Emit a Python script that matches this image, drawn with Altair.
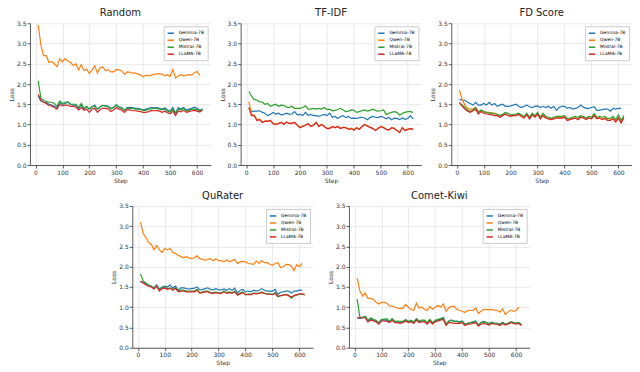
import altair as alt
import pandas as pd

models = ["Gemma-7B", "Qwen-7B", "Mistral-7B", "LLaMA-7B"]
colors = ["#1f77b4", "#ff7f0e", "#2ca02c", "#d62728"]
x_ticks = [0, 100, 200, 300, 400, 500, 600]
y_ticks = [0.0, 0.5, 1.0, 1.5, 2.0, 2.5, 3.0, 3.5]

# ---- Random ----
random_gemma = [1.70, 1.58, 1.55, 1.54, 1.50, 1.48, 1.45, 1.42, 1.55, 1.50, 1.52, 1.55, 1.50, 1.48, 1.48, 1.40,
                1.48, 1.38, 1.44, 1.38, 1.43, 1.48, 1.38, 1.44, 1.47, 1.47, 1.45, 1.40, 1.42, 1.49, 1.44, 1.42,
                1.35, 1.42, 1.42, 1.42, 1.40, 1.40, 1.38, 1.36, 1.38, 1.40, 1.42, 1.41, 1.42, 1.40, 1.38, 1.41,
                1.36, 1.33, 1.42, 1.28, 1.42, 1.38, 1.42, 1.36, 1.38, 1.40, 1.43, 1.40, 1.35, 1.38]
random_qwen = [3.46, 2.96, 2.70, 2.70, 2.53, 2.55, 2.50, 2.43, 2.62, 2.55, 2.63, 2.57, 2.53, 2.46, 2.50, 2.35,
               2.48, 2.33, 2.37, 2.26, 2.35, 2.45, 2.27, 2.40, 2.42, 2.33, 2.35, 2.30, 2.30, 2.36, 2.35, 2.33,
               2.24, 2.30, 2.29, 2.27, 2.27, 2.25, 2.22, 2.18, 2.22, 2.20, 2.22, 2.24, 2.25, 2.25, 2.24, 2.20,
               2.23, 2.19, 2.36, 2.15, 2.20, 2.23, 2.20, 2.22, 2.23, 2.22, 2.28, 2.31, 2.21]
random_mistral = [2.08, 1.65, 1.60, 1.57, 1.55, 1.55, 1.52, 1.45, 1.58, 1.52, 1.55, 1.56, 1.50, 1.50, 1.50, 1.42,
                  1.52, 1.40, 1.45, 1.38, 1.45, 1.45, 1.38, 1.43, 1.47, 1.45, 1.43, 1.38, 1.42, 1.48, 1.42, 1.40,
                  1.35, 1.40, 1.40, 1.40, 1.38, 1.38, 1.37, 1.35, 1.35, 1.38, 1.39, 1.40, 1.40, 1.38, 1.36, 1.38,
                  1.33, 1.30, 1.38, 1.27, 1.38, 1.35, 1.40, 1.33, 1.35, 1.38, 1.38, 1.37, 1.33, 1.38]
random_llama = [1.75, 1.60, 1.55, 1.52, 1.47, 1.46, 1.42, 1.38, 1.50, 1.46, 1.48, 1.48, 1.45, 1.45, 1.43, 1.36,
                1.42, 1.35, 1.38, 1.30, 1.38, 1.40, 1.30, 1.37, 1.40, 1.40, 1.38, 1.32, 1.36, 1.42, 1.38, 1.36,
                1.30, 1.36, 1.36, 1.34, 1.34, 1.33, 1.32, 1.30, 1.30, 1.32, 1.35, 1.34, 1.35, 1.33, 1.30, 1.33,
                1.29, 1.27, 1.33, 1.22, 1.33, 1.31, 1.35, 1.30, 1.32, 1.34, 1.35, 1.33, 1.31, 1.36]

# ---- TF-IDF ----
tfidf_gemma = [1.40, 1.32, 1.33, 1.33, 1.34, 1.30, 1.28, 1.22, 1.25, 1.30, 1.26, 1.28, 1.24, 1.25, 1.28, 1.25,
               1.26, 1.32, 1.24, 1.25, 1.22, 1.30, 1.23, 1.25, 1.22, 1.22, 1.20, 1.23, 1.25, 1.22, 1.28, 1.18,
               1.20, 1.15, 1.20, 1.22, 1.17, 1.20, 1.15, 1.16, 1.15, 1.17, 1.18, 1.16, 1.12, 1.17, 1.20, 1.18,
               1.17, 1.20, 1.18, 1.14, 1.18, 1.12, 1.16, 1.15, 1.12, 1.16, 1.13, 1.15, 1.22, 1.14]
tfidf_qwen = [1.57, 1.25, 1.23, 1.12, 1.13, 1.06, 1.09, 1.09, 1.10, 1.03, 1.01, 1.03, 1.06, 1.01, 1.06, 1.03,
              1.04, 1.05, 0.99, 0.93, 0.96, 0.99, 1.02, 0.96, 0.99, 1.05, 0.96, 1.00, 0.96, 0.91, 0.91, 0.95,
              0.93, 0.95, 0.91, 0.93, 0.93, 0.89, 0.91, 0.87, 0.92, 0.89, 0.95, 1.00, 0.97, 0.94, 0.91, 0.86,
              0.91, 0.95, 0.93, 0.89, 0.87, 0.92, 0.91, 0.86, 0.81, 0.92, 0.86, 0.89, 0.90, 0.89]
tfidf_mistral = [1.82, 1.70, 1.62, 1.60, 1.56, 1.55, 1.50, 1.52, 1.45, 1.48, 1.50, 1.45, 1.48, 1.47, 1.43, 1.42,
                 1.45, 1.40, 1.40, 1.40, 1.42, 1.46, 1.38, 1.38, 1.40, 1.38, 1.40, 1.38, 1.42, 1.37, 1.38, 1.34,
                 1.35, 1.37, 1.40, 1.36, 1.32, 1.33, 1.36, 1.35, 1.30, 1.32, 1.34, 1.36, 1.33, 1.35, 1.38, 1.35,
                 1.33, 1.34, 1.36, 1.25, 1.28, 1.30, 1.32, 1.30, 1.23, 1.28, 1.30, 1.32, 1.32, 1.30]
tfidf_llama = [1.42, 1.22, 1.22, 1.10, 1.12, 1.05, 1.08, 1.08, 1.10, 1.02, 1.00, 1.02, 1.05, 1.00, 1.06, 1.02,
               1.03, 1.05, 0.98, 0.92, 0.95, 0.98, 1.02, 0.95, 0.98, 1.05, 0.95, 1.00, 0.95, 0.90, 0.90, 0.95,
               0.92, 0.95, 0.90, 0.93, 0.92, 0.88, 0.90, 0.86, 0.92, 0.88, 0.95, 1.00, 0.96, 0.93, 0.90, 0.85,
               0.90, 0.95, 0.92, 0.88, 0.86, 0.92, 0.90, 0.85, 0.80, 0.92, 0.85, 0.88, 0.90, 0.88]

# ---- FD Score ----
fd_gemma = [1.62, 1.60, 1.60, 1.55, 1.52, 1.48, 1.55, 1.48, 1.48, 1.52, 1.48, 1.55, 1.48, 1.52, 1.45, 1.48,
            1.50, 1.45, 1.45, 1.46, 1.48, 1.50, 1.45, 1.42, 1.45, 1.48, 1.44, 1.42, 1.45, 1.46, 1.42, 1.45,
            1.42, 1.45, 1.40, 1.45, 1.35, 1.42, 1.45, 1.45, 1.40, 1.42, 1.38, 1.40, 1.42, 1.48, 1.43, 1.40,
            1.40, 1.42, 1.44, 1.35, 1.35, 1.37, 1.38, 1.38, 1.33, 1.40, 1.38, 1.40, 1.40]
fd_qwen = [1.85, 1.62, 1.48, 1.40, 1.38, 1.38, 1.42, 1.32, 1.35, 1.32, 1.30, 1.30, 1.28, 1.28, 1.23, 1.19,
           1.23, 1.27, 1.23, 1.21, 1.23, 1.23, 1.26, 1.21, 1.17, 1.25, 1.15, 1.25, 1.19, 1.27, 1.15, 1.23,
           1.17, 1.15, 1.13, 1.15, 1.17, 1.17, 1.17, 1.19, 1.11, 1.13, 1.15, 1.17, 1.13, 1.19, 1.17, 1.13,
           1.17, 1.15, 1.23, 1.15, 1.17, 1.13, 1.16, 1.11, 1.11, 1.15, 1.07, 1.17, 1.05, 1.17]
fd_mistral = [1.52, 1.48, 1.42, 1.36, 1.32, 1.36, 1.42, 1.30, 1.36, 1.32, 1.30, 1.28, 1.28, 1.26, 1.26, 1.22,
              1.25, 1.30, 1.28, 1.24, 1.25, 1.26, 1.28, 1.24, 1.20, 1.28, 1.18, 1.28, 1.22, 1.30, 1.18, 1.28,
              1.20, 1.18, 1.16, 1.18, 1.20, 1.20, 1.20, 1.22, 1.15, 1.16, 1.18, 1.20, 1.18, 1.22, 1.20, 1.16,
              1.20, 1.18, 1.27, 1.18, 1.20, 1.18, 1.20, 1.15, 1.15, 1.20, 1.12, 1.24, 1.10, 1.22]
fd_llama = [1.55, 1.45, 1.38, 1.33, 1.30, 1.34, 1.38, 1.26, 1.32, 1.28, 1.26, 1.25, 1.24, 1.22, 1.22, 1.18,
            1.22, 1.26, 1.22, 1.20, 1.22, 1.22, 1.25, 1.20, 1.16, 1.24, 1.14, 1.24, 1.18, 1.26, 1.14, 1.22,
            1.16, 1.14, 1.12, 1.14, 1.16, 1.16, 1.16, 1.18, 1.10, 1.12, 1.14, 1.16, 1.12, 1.18, 1.16, 1.12,
            1.16, 1.14, 1.22, 1.14, 1.16, 1.12, 1.15, 1.10, 1.10, 1.14, 1.06, 1.16, 1.04, 1.16]

# ---- QuRater ----
qu_gemma = [1.62, 1.62, 1.58, 1.55, 1.52, 1.48, 1.55, 1.45, 1.50, 1.52, 1.50, 1.55, 1.48, 1.52, 1.42, 1.48,
            1.48, 1.46, 1.45, 1.46, 1.47, 1.50, 1.43, 1.44, 1.46, 1.48, 1.44, 1.43, 1.46, 1.43, 1.43, 1.45,
            1.42, 1.46, 1.42, 1.47, 1.35, 1.42, 1.44, 1.38, 1.40, 1.38, 1.42, 1.40, 1.42, 1.46, 1.42, 1.40,
            1.40, 1.40, 1.44, 1.32, 1.37, 1.38, 1.40, 1.40, 1.35, 1.40, 1.40, 1.42, 1.42]
qu_qwen = [3.10, 2.82, 2.72, 2.60, 2.55, 2.42, 2.52, 2.42, 2.35, 2.45, 2.42, 2.45, 2.35, 2.33, 2.28, 2.25,
           2.22, 2.25, 2.22, 2.20, 2.22, 2.27, 2.20, 2.18, 2.16, 2.18, 2.20, 2.15, 2.20, 2.15, 2.15, 2.12,
           2.17, 2.12, 2.15, 2.18, 2.08, 2.12, 2.13, 2.12, 2.08, 2.07, 2.06, 2.14, 2.08, 2.15, 2.10, 2.10,
           2.06, 2.04, 2.08, 2.10, 1.98, 2.00, 2.06, 2.05, 2.02, 1.90, 2.05, 2.00, 2.08]
qu_mistral = [1.82, 1.65, 1.60, 1.55, 1.52, 1.46, 1.54, 1.42, 1.48, 1.50, 1.45, 1.48, 1.45, 1.48, 1.40, 1.42,
              1.42, 1.40, 1.40, 1.40, 1.40, 1.44, 1.36, 1.38, 1.40, 1.40, 1.37, 1.36, 1.38, 1.35, 1.36, 1.40,
              1.36, 1.38, 1.36, 1.40, 1.30, 1.35, 1.38, 1.30, 1.33, 1.32, 1.35, 1.34, 1.35, 1.38, 1.35, 1.33,
              1.33, 1.32, 1.36, 1.26, 1.28, 1.30, 1.32, 1.30, 1.22, 1.28, 1.30, 1.32, 1.32, 1.30]
qu_llama = [1.65, 1.60, 1.55, 1.52, 1.50, 1.45, 1.52, 1.40, 1.46, 1.47, 1.44, 1.47, 1.42, 1.46, 1.38, 1.40,
            1.40, 1.38, 1.38, 1.38, 1.38, 1.42, 1.35, 1.36, 1.38, 1.38, 1.35, 1.34, 1.36, 1.34, 1.34, 1.38,
            1.34, 1.36, 1.34, 1.38, 1.30, 1.33, 1.36, 1.32, 1.31, 1.31, 1.34, 1.33, 1.34, 1.36, 1.34, 1.32,
            1.32, 1.31, 1.34, 1.27, 1.29, 1.30, 1.31, 1.28, 1.25, 1.29, 1.31, 1.33, 1.33, 1.32]

# ---- Comet-Kiwi ----
ck_gemma = [0.74, 0.72, 0.74, 0.76, 0.65, 0.70, 0.68, 0.66, 0.60, 0.68, 0.68, 0.68, 0.64, 0.70, 0.63, 0.64,
            0.63, 0.64, 0.68, 0.64, 0.66, 0.62, 0.70, 0.64, 0.66, 0.66, 0.60, 0.68, 0.60, 0.66, 0.68, 0.70,
            0.72, 0.58, 0.66, 0.68, 0.65, 0.66, 0.64, 0.66, 0.58, 0.60, 0.62, 0.64, 0.66, 0.56, 0.62, 0.65,
            0.62, 0.60, 0.63, 0.60, 0.60, 0.58, 0.63, 0.58, 0.60, 0.64, 0.62, 0.60, 0.62, 0.56]
ck_qwen = [1.72, 1.40, 1.28, 1.35, 1.22, 1.22, 1.20, 1.12, 1.08, 1.12, 1.12, 1.10, 1.03, 1.03, 1.00, 0.98,
           0.97, 0.97, 1.07, 1.00, 0.95, 0.92, 1.10, 0.98, 1.00, 0.95, 0.92, 1.02, 0.95, 1.00, 1.05, 1.00,
           1.08, 0.90, 0.98, 1.02, 1.02, 0.95, 0.92, 0.90, 0.87, 0.92, 0.92, 0.92, 0.98, 0.85, 0.90, 0.95,
           0.94, 0.94, 0.94, 0.93, 0.92, 0.88, 0.96, 0.82, 0.88, 0.93, 0.90, 0.92, 1.00]
ck_mistral = [1.20, 0.75, 0.75, 0.78, 0.68, 0.74, 0.70, 0.68, 0.62, 0.70, 0.70, 0.72, 0.65, 0.72, 0.65, 0.66,
              0.65, 0.65, 0.70, 0.65, 0.68, 0.64, 0.72, 0.66, 0.68, 0.68, 0.62, 0.70, 0.62, 0.68, 0.70, 0.72,
              0.75, 0.58, 0.65, 0.68, 0.65, 0.65, 0.62, 0.65, 0.58, 0.60, 0.62, 0.62, 0.65, 0.55, 0.62, 0.64,
              0.62, 0.58, 0.62, 0.60, 0.60, 0.56, 0.62, 0.58, 0.60, 0.64, 0.62, 0.60, 0.62, 0.58]
ck_llama = [0.74, 0.74, 0.74, 0.74, 0.64, 0.68, 0.66, 0.64, 0.58, 0.66, 0.66, 0.65, 0.62, 0.68, 0.62, 0.62,
            0.60, 0.62, 0.66, 0.62, 0.64, 0.60, 0.68, 0.62, 0.64, 0.64, 0.58, 0.66, 0.58, 0.64, 0.66, 0.68,
            0.70, 0.55, 0.62, 0.62, 0.60, 0.60, 0.60, 0.62, 0.55, 0.58, 0.58, 0.60, 0.62, 0.54, 0.58, 0.60,
            0.58, 0.56, 0.60, 0.58, 0.58, 0.55, 0.60, 0.56, 0.58, 0.62, 0.60, 0.58, 0.60, 0.55]

FONT = "DejaVu Sans"


def frame(series):
    rows = []
    for m, vals in zip(models, series):
        for i, v in enumerate(vals):
            rows.append({"Step": 10 * (i + 1), "Loss": v, "Model": m})
    return pd.DataFrame(rows)


def panel(title, series):
    df = frame(series)
    return alt.Chart(df, title=alt.Title(title, fontWeight=400)).mark_line(strokeWidth=1.2).encode(
        x=alt.X("Step:Q",
                scale=alt.Scale(domain=[-20.5, 650.5], nice=False, zero=False),
                axis=alt.Axis(values=x_ticks, title="Step", format="d")),
        y=alt.Y("Loss:Q",
                scale=alt.Scale(domain=[0, 3.5], nice=False),
                axis=alt.Axis(values=y_ticks, title="Loss", format=".1f")),
        color=alt.Color("Model:N", sort=models,
                        scale=alt.Scale(domain=models, range=colors),
                        legend=alt.Legend(orient="top-right", title=None, symbolType="stroke",
                                          symbolStrokeWidth=1.5, symbolSize=40, labelFontSize=4.5,
                                          labelFont=FONT, fillColor="white", strokeColor="#cccccc",
                                          padding=3, rowPadding=0, offset=3, labelLimit=60)),
    ).properties(width=181, height=142)


top = alt.hconcat(
    panel("Random", [random_gemma, random_qwen, random_mistral, random_llama]),
    panel("TF-IDF", [tfidf_gemma, tfidf_qwen, tfidf_mistral, tfidf_llama]),
    panel("FD Score", [fd_gemma, fd_qwen, fd_mistral, fd_llama]),
    spacing=8,
).resolve_scale(color="independent")

bottom = alt.hconcat(
    panel("QuRater", [qu_gemma, qu_qwen, qu_mistral, qu_llama]),
    panel("Comet-Kiwi", [ck_gemma, ck_qwen, ck_mistral, ck_llama]),
    spacing=14,
).resolve_scale(color="independent")

chart = alt.vconcat(top, bottom, center=True, spacing=8).resolve_scale(
    color="independent"
).properties(
    padding={"left": 0, "top": 0, "right": 0, "bottom": 0}
).configure_view(
    stroke=None
).configure_title(
    font=FONT, fontSize=10, fontWeight=400, color="#222222", offset=2, anchor="middle"
).configure_axis(
    labelFont=FONT, titleFont=FONT, labelFontSize=6, titleFontSize=6, titleFontWeight="normal",
    labelColor="#333333", titleColor="#333333", domainColor="#333333", tickColor="#333333",
    tickSize=3, labelPadding=1, titlePadding=2, gridColor="#e3e3e3", gridWidth=0.8,
    domainWidth=0.8, tickWidth=0.8
)

chart.save("out.html", embed_options={"renderer": "svg", "actions": False})
